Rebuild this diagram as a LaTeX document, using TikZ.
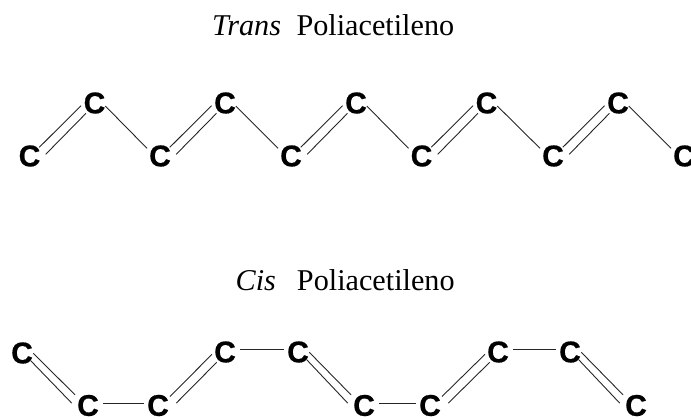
\documentclass[tikz,border=0pt]{standalone}
\usepackage{fontspec}
\setmainfont{Liberation Serif}
\newfontfamily\atomfont[FakeBold=0.6]{Liberation Sans Bold}
\usetikzlibrary{calc}
\tikzset{
  atom/.style={inner sep=0pt,font=\atomfont\fontsize{30}{30}\selectfont},
  bond/.style={draw=black!85,line width=0.9pt},
  title/.style={inner sep=0pt,anchor=base west,font=\fontsize{30.2}{34}\selectfont}
}
% bond(from, dx1, dy1, to, dx2, dy2)
\newcommand{\bondline}[6]{\draw[bond] ($(#1)+(#2,#3)$) -- ($(#4)+(#5,#6)$);}
\newcommand{\tsingle}[2]{\bondline{#1}{10.8}{3}{#2}{-13}{-7.7}}
\newcommand{\tdouble}[2]{\bondline{#1}{9.8}{-8.7}{#2}{-13.5}{2.7}\bondline{#1}{16.2}{-1.7}{#2}{-8.5}{10.3}}
\newcommand{\cisdown}[2]{\bondline{#1}{11.3}{0.3}{#2}{-13}{-10.7}\bondline{#1}{8.7}{7.7}{#2}{-16.3}{-2.4}}
\newcommand{\cisup}[2]{\bondline{#1}{12}{-9}{#2}{-13}{2.3}\bondline{#1}{18.3}{-2.4}{#2}{-8.3}{10.3}}
\newcommand{\cishor}[2]{\bondline{#1}{15}{-2.5}{#2}{-14.3}{-2.5}}
\begin{document}
\begin{tikzpicture}[x=1pt,y=-1pt]
\useasboundingbox (0,0) rectangle (691,418);
\node[title] (t1) at (212,35.5) {\textit{Trans}\hspace{15.5pt}Poliacetileno};
\node[title] (t2) at (235.5,290.5) {\textit{Cis}\hspace{21pt}Poliacetileno};
% trans row
\foreach \n/\x/\y in {a1/29.5/156,a2/94.5/103,a3/160/156,a4/225/103,a5/291/156,a6/356/103,a7/421.5/156,a8/486.5/103,a9/553/156,a10/618/103,a11/684/156}
  \node[atom] (\n) at (\x,\y) {C};
\tdouble{a1}{a2}\tsingle{a2}{a3}\tdouble{a3}{a4}\tsingle{a4}{a5}\tdouble{a5}{a6}
\tsingle{a6}{a7}\tdouble{a7}{a8}\tsingle{a8}{a9}\tdouble{a9}{a10}\tsingle{a10}{a11}
% cis row
\foreach \n/\x/\y in {b1/22/353,b2/88/405.5,b3/158/405.5,b4/225/352,b5/298/352,b6/364/405.5,b7/430/405.5,b8/498/352,b9/570/352,b10/636/405.5}
  \node[atom] (\n) at (\x,\y) {C};
\cisdown{b1}{b2}\cishor{b2}{b3}\cisup{b3}{b4}\cishor{b4}{b5}\cisdown{b5}{b6}
\cishor{b6}{b7}\cisup{b7}{b8}\cishor{b8}{b9}\cisdown{b9}{b10}
\end{tikzpicture}
\end{document}
